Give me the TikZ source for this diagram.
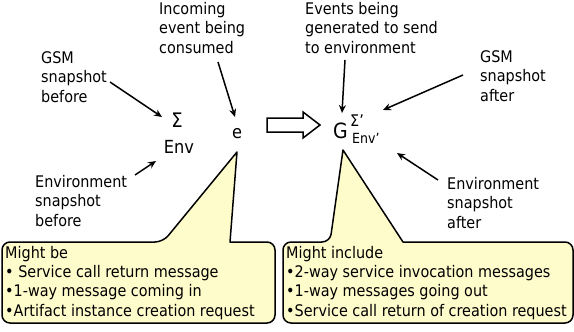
\documentclass[tikz,border=0pt]{standalone}
\usepackage{fontspec}
\setmainfont{DejaVu Sans Condensed}
\usetikzlibrary{arrows.meta}
\newcommand{\lblfont}{\fontsize{16}{19.5}\selectfont}
\newcommand{\symfont}{\fontsize{18}{20}\selectfont}
\tikzset{
  lbl/.style={font=\lblfont, align=left, anchor=base west, inner sep=0pt},
  sym/.style={font=\symfont, anchor=base, inner sep=0pt},
  pointer/.style={draw=black, line width=1.5pt, -{Stealth[length=8pt,width=7pt]}},
  callout/.style={draw=black, line width=1.5pt, fill=yellow!20, line join=round},
  bigarrow/.style={draw=black, line width=1.5pt, fill=white, line join=miter}
}
\begin{document}
\begin{tikzpicture}[x=1pt,y=-1pt]
\useasboundingbox (0,0) rectangle (574,332);
% labels (anchored at the baseline of their last line)
\node[lbl] (gsmb) at (41,102) {GSM\\snapshot\\before};
\node[lbl] (inc) at (159,53) {Incoming\\event being\\consumed};
\node[lbl] (envb) at (35,226) {Environment\\snapshot\\before};
\node[lbl] (evg) at (305,53) {Events being\\generated to send\\to environment};
\node[lbl] (gsma) at (480,101) {GSM\\snapshot\\after};
\node[lbl] (enva) at (447,228) {Environment\\snapshot\\after};
% symbols
\node[sym, font=\fontsize{20}{22}\selectfont] (sig) at (177,127) {Σ};
\node[sym] (env) at (179,153) {Env};
\node[sym] (e) at (237,138) {e};
\node[font=\fontsize{21}{24}\selectfont, anchor=base west, inner sep=0pt] (G) at (333,138) {G};
\node[font=\fontsize{16}{18}\selectfont, anchor=base west, inner sep=0pt] (sigp) at (350,126) {Σ’};
\node[font=\fontsize{14}{16}\selectfont, anchor=base west, inner sep=0pt] (envp) at (352,143) {Env’};
% arrow end points
\coordinate (a1s) at (110,82); \coordinate (a1e) at (162,117);
\coordinate (a2s) at (218,62); \coordinate (a2e) at (235,117);
\coordinate (a3s) at (135,175); \coordinate (a3e) at (156,161);
\coordinate (a4s) at (345,60); \coordinate (a4e) at (342,113);
\coordinate (a5s) at (463,75); \coordinate (a5e) at (383,110);
\coordinate (a6s) at (438,180); \coordinate (a6e) at (397,153);
\draw[pointer] (a1s) -- (a1e);
\draw[pointer] (a2s) -- (a2e);
\draw[pointer] (a3s) -- (a3e);
\draw[pointer] (a4s) -- (a4e);
\draw[pointer] (a5s) -- (a5e);
\draw[pointer] (a6s) -- (a6e);
% big hollow arrow
\draw[bigarrow] (267,118) -- (303,118) -- (303,112) -- (320,125) -- (303,138) -- (303,132) -- (267,132) -- cycle;
% callouts
\draw[callout] (2,280) [rounded corners=8pt] -- (2,242) -- (163,242) [sharp corners] -- (237,152) -- (230,242) [rounded corners=8pt] -- (275,242) -- (275,323) -- (2,323) -- cycle;
\draw[callout] (283,280) [rounded corners=8pt] -- (283,242) -- (330,242) [sharp corners] -- (343,150) -- (403,242) [rounded corners=8pt] -- (573,242) -- (573,323) -- (283,323) -- cycle;
\node[lbl, font=\fontsize{16}{19.3}\selectfont] (cl) at (5,316) {Might be\\• Service call return message\\•1-way message coming in\\•Artifact instance creation request};
\node[lbl, font=\fontsize{16}{19.3}\selectfont] (cr) at (286,316) {Might include\\•2-way service invocation messages\\•1-way messages going out\\•Service call return of creation request};
\end{tikzpicture}
\end{document}
